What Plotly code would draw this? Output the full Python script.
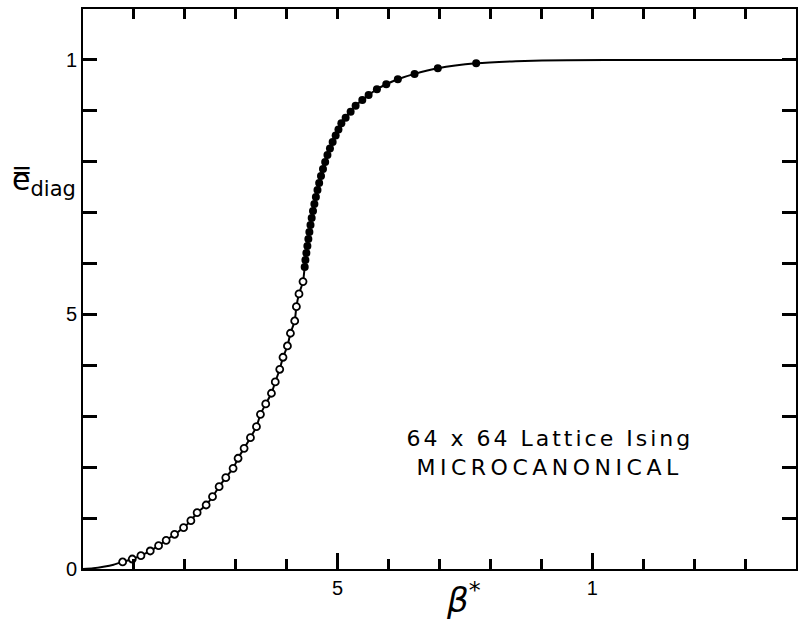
import plotly.graph_objects as go

# open circles (beta*, e_diag)
open_x = [0.0778, 0.0967, 0.1137, 0.1320, 0.1484, 0.1633, 0.1798, 0.1975, 0.2118, 0.2241,
          0.2418, 0.2543, 0.2673, 0.2804, 0.2947, 0.3045, 0.3163, 0.3288, 0.3406, 0.3484,
          0.3588, 0.3700, 0.3775, 0.3863, 0.3927, 0.4014, 0.4073, 0.4157, 0.4190, 0.4241, 0.4320]
open_y = [0.0138, 0.0196, 0.0261, 0.0354, 0.0458, 0.0564, 0.0682, 0.0811, 0.0949, 0.1106,
          0.1257, 0.1420, 0.1617, 0.1794, 0.1978, 0.2175, 0.2371, 0.2580, 0.2796, 0.3039,
          0.3242, 0.3452, 0.3674, 0.3923, 0.4159, 0.4381, 0.4631, 0.4872, 0.5153, 0.5403, 0.5645]

# filled circles
fill_x = [0.4353, 0.4367, 0.4386, 0.4406, 0.4425, 0.4445, 0.4467, 0.4490, 0.4516, 0.4543,
          0.4573, 0.4604, 0.4637, 0.4673, 0.4712, 0.4755, 0.4800, 0.4849, 0.4902, 0.4961,
          0.5016, 0.5073, 0.5157, 0.5255, 0.5353, 0.5484, 0.5608, 0.5771, 0.5955, 0.6182,
          0.6510, 0.6967, 0.7720]
fill_y = [0.5933, 0.6071, 0.6208, 0.6346, 0.6483, 0.6621, 0.6758, 0.6896, 0.7033, 0.7171,
          0.7308, 0.7446, 0.7583, 0.7721, 0.7859, 0.7996, 0.8134, 0.8261, 0.8389, 0.8517,
          0.8635, 0.8756, 0.8866, 0.8984, 0.9102, 0.9214, 0.9312, 0.9424, 0.9522, 0.9620,
          0.9725, 0.9836, 0.9934]

# smooth curve: head and tail beyond the data points
head_x = [0.0, 0.02, 0.04, 0.06]
head_y = [0.0, 0.0015, 0.0045, 0.0085]
tail_x = [0.85, 0.95, 1.1, 1.25, 1.4]
tail_y = [0.9975, 0.9995, 1.0, 1.0, 1.0]

x_tick_vals = [0.5, 1.0]
x_tick_text = ["5", "1"]
x_top_vals = [0.1, 0.2, 0.3, 0.4, 0.5, 0.6, 0.7, 0.8, 0.9, 1.0, 1.1, 1.2, 1.3]
y_tick_vals = [0, 0.1, 0.2, 0.3, 0.4, 0.5, 0.6, 0.7, 0.8, 0.9, 1.0]
y_tick_text = ["0", "", "", "", "", "5", "", "", "", "", "1"]

line_x = head_x + open_x + fill_x + tail_x
line_y = head_y + open_y + fill_y + tail_y

fig = go.Figure()
fig.add_trace(go.Scatter(x=line_x, y=line_y, mode="lines",
                         line=dict(color="black", width=2, shape="spline", smoothing=0.6),
                         hoverinfo="skip", showlegend=False))
fig.add_trace(go.Scatter(x=open_x, y=open_y, mode="markers",
                         marker=dict(symbol="circle", size=7, color="white",
                                     line=dict(color="black", width=1.8)),
                         showlegend=False))
fig.add_trace(go.Scatter(x=fill_x, y=fill_y, mode="markers",
                         marker=dict(symbol="circle", size=8, color="black",
                                     line=dict(color="black", width=0)),
                         showlegend=False))
# invisible trace carrying the top axis
fig.add_trace(go.Scatter(x=[0.0, 1.4], y=[0.5, 0.5], xaxis="x2", yaxis="y",
                         mode="lines", line=dict(width=0, color="rgba(0,0,0,0)"),
                         hoverinfo="skip", showlegend=False))

fig.update_layout(
    width=801, height=626,
    margin=dict(l=83, r=3, t=9, b=57),
    paper_bgcolor="white", plot_bgcolor="white",
    font=dict(family="Liberation Sans, Arial, sans-serif", color="black"),
    xaxis=dict(range=[0, 1.4], showgrid=False, zeroline=False,
               showline=True, linecolor="black", linewidth=2, mirror=True,
               ticks="inside", ticklen=16, tickwidth=2.5, tickcolor="black",
               tickvals=x_tick_vals, ticktext=x_tick_text,
               tickfont=dict(size=20),
               minor=dict(ticks="inside", ticklen=10, tickwidth=2.5, dtick=0.1,
                          tick0=0, tickcolor="black")),
    xaxis2=dict(range=[0, 1.4], overlaying="x", side="top", anchor="y",
                ticks="inside", ticklen=10, tickwidth=2.5,
                tickcolor="black", tickmode="array", tickvals=x_top_vals,
                showticklabels=False),
    yaxis=dict(range=[0, 1.1], showgrid=False, zeroline=False,
               showline=True, linecolor="black", linewidth=2, mirror="ticks",
               ticks="inside", ticklen=14, tickwidth=2.5, tickcolor="black",
               tickvals=y_tick_vals, ticktext=y_tick_text,
               tickfont=dict(size=20)),
)

fig.add_annotation(xref="paper", yref="paper", x=-0.102, y=0.73, xanchor="left",
                   text="e\u033f<sub>diag</sub>", showarrow=False,
                   font=dict(size=30, family="DejaVu Sans, sans-serif"))
fig.add_annotation(xref="paper", yref="paper", x=0.534, y=-0.095,
                   text="<i>\u03b2</i><sup>*</sup>", showarrow=False,
                   font=dict(size=34, family="DejaVu Sans, sans-serif"))
fig.add_annotation(x=0.917, y=0.257, text="64 x 64 Lattice Ising", showarrow=False,
                   font=dict(size=22, family="DejaVu Sans, sans-serif"))
fig.add_annotation(x=0.917, y=0.200, text="MICROCANONICAL", showarrow=False,
                   font=dict(size=22, family="DejaVu Sans, sans-serif"))

fig.write_html("out.html",
               post_script="document.querySelectorAll('.annotation-text').forEach(function(t){if(t.textContent.indexOf('64')>=0){t.style.letterSpacing='3px';}if(t.textContent.indexOf('MICRO')>=0){t.style.letterSpacing='4.5px';}});")
